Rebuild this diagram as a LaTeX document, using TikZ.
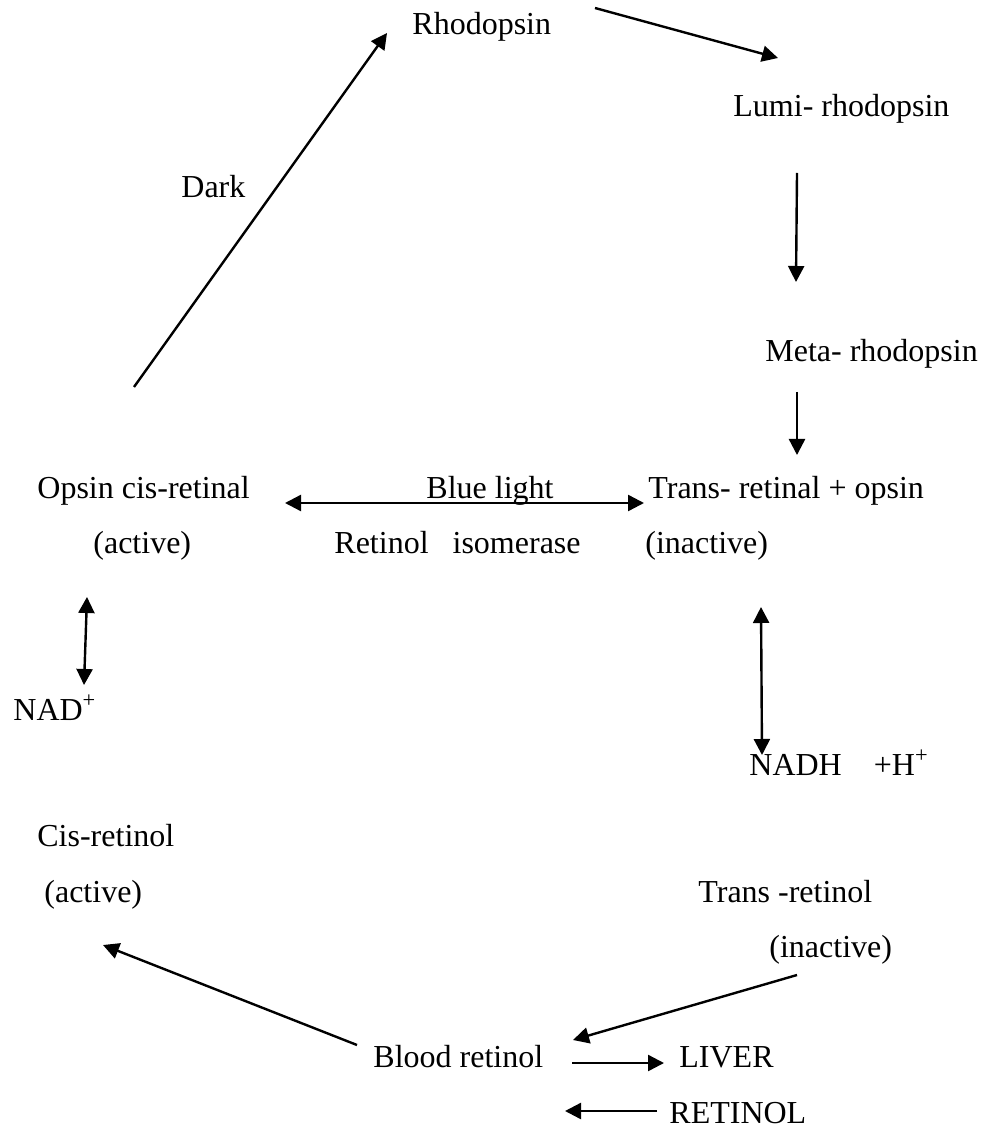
\documentclass[tikz,border=0pt]{standalone}
\usepackage{fontspec}
\setmainfont{Liberation Serif}
\usetikzlibrary{arrows.meta}

\begin{document}
\begin{tikzpicture}[x=0.5pt, y=-0.5pt]
        \tikzstyle{txt} = [anchor=base west, inner sep=0pt, font=\fontsize{16}{19}\selectfont]
        \tikzstyle{line} = [draw, line width=1.2pt, -{Triangle[length=8pt, width=8pt]}]
        \tikzstyle{dline} = [draw, line width=1.2pt, {Triangle[length=8pt, width=8pt]}-{Triangle[length=8pt, width=8pt]}]

        \useasboundingbox (0,0) rectangle (983,1127);

        \node [txt] (rhod) at (412,35) {Rhodopsin};
        \node [txt] (lumi) at (733,117) {Lumi- rhodopsin};
        \node [txt] (meta) at (765,362) {Meta- rhodopsin};
        \node [txt] (dark) at (181,198) {Dark};

        \node [txt] (opsin) at (37,498) {Opsin cis-retinal};
        \node [txt] (active1) at (93,553) {(active)};
        \node [txt] (blue) at (426,498) {Blue light};
        \node [txt] (isom) at (334,553) {Retinol\ \ \ isomerase};
        \node [txt] (trans) at (648,498) {Trans- retinal + opsin};
        \node [txt] (inactive1) at (645,553) {(inactive)};

        \node [txt] (nad) at (13,720) {NAD\textsuperscript{+}};
        \node [txt] (nadh) at (749,775) {NADH\hspace{16pt}+H\textsuperscript{+}};

        \node [txt] (cisret) at (37,846) {Cis-retinol};
        \node [txt] (active2) at (44,902) {(active)};
        \node [txt] (transret) at (698,902) {Trans -retinol};
        \node [txt] (inactive2) at (769,957) {(inactive)};

        \node [txt] (blood) at (373,1067) {Blood retinol};
        \node [txt] (liver) at (679,1067) {LIVER};
        \node [txt] (retinol) at (669,1123) {RETINOL};

        % free ends of the arrows
        \coordinate (darkfrom) at (134,387);
        \coordinate (darkto) at (387,33);
        \coordinate (rhodfrom) at (595,8);
        \coordinate (lumito) at (778,58);
        \coordinate (lumifrom) at (797,173);
        \coordinate (metato) at (796,282);
        \coordinate (metafrom) at (797,392);
        \coordinate (transto) at (797,455);
        \coordinate (isoleft) at (285,503);
        \coordinate (isoright) at (644,503);
        \coordinate (nadtop) at (87,597);
        \coordinate (nadbot) at (84,685);
        \coordinate (nadhtop) at (761,607);
        \coordinate (nadhbot) at (762,755);
        \coordinate (transretfrom) at (797,975);
        \coordinate (bloodin) at (573,1040);
        \coordinate (bloodout) at (357,1045);
        \coordinate (cisretto) at (103,945);
        \coordinate (liverfrom) at (572,1063);
        \coordinate (liverto) at (664,1063);
        \coordinate (retinolfrom) at (657,1111);
        \coordinate (retinolto) at (565,1111);

        \path [line] (darkfrom) -- (darkto);
        \path [line] (rhodfrom) -- (lumito);
        \path [line] (lumifrom) -- (metato);
        \path [line] (metafrom) -- (transto);
        \path [dline] (isoleft) -- (isoright);
        \path [dline] (nadtop) -- (nadbot);
        \path [dline] (nadhtop) -- (nadhbot);
        \path [line] (transretfrom) -- (bloodin);
        \path [line] (bloodout) -- (cisretto);
        \path [line] (liverfrom) -- (liverto);
        \path [line] (retinolfrom) -- (retinolto);
    \end{tikzpicture}
\end{document}
